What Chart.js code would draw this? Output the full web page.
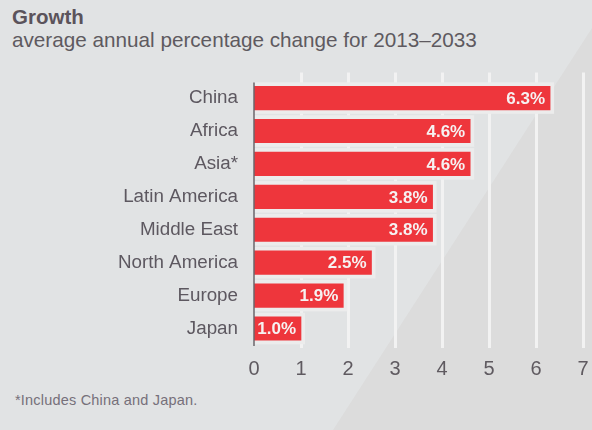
<!DOCTYPE html>
<html>
<head>
<meta charset="utf-8">
<script src="https://cdn.jsdelivr.net/npm/chart.js@4"></script>
<style>
  html, body { margin: 0; padding: 0; }
  body { width: 592px; height: 430px; position: relative; overflow: hidden; background: #e1e3e4; font-family: "Liberation Sans", Arial, sans-serif; }
  .shade { position: absolute; left: 0; top: 0; width: 592px; height: 430px; background: #dcdcdc;
           clip-path: polygon(333px 430px, 610px 0px, 700px 0px, 700px 430px); }
  .title { position: absolute; left: 12px; top: 5px; font-size: 20.5px; font-weight: bold; color: #5b535b; }
  .sub { position: absolute; left: 12px; top: 28px; font-size: 20.7px; color: #5e5a60; }
  .note { position: absolute; left: 15px; top: 392px; font-family: "Liberation Sans Narrow", "Liberation Sans", sans-serif; font-size: 14.5px; letter-spacing: 0.2px; color: #76707a; }
  #c { position: absolute; left: 0; top: 0; }
</style>
</head>
<body>
<div class="shade"></div>
<div class="title">Growth</div>
<div class="sub">average annual percentage change for 2013–2033</div>
<div class="note">*Includes China and Japan.</div>
<canvas id="c" width="592" height="430"></canvas>
<script>
// Growth by region
const regions = ["China", "Africa", "Asia*", "Latin America", "Middle East", "North America", "Europe", "Japan"];
const growth = [6.3, 4.6, 4.6, 3.8, 3.8, 2.5, 1.9, 1.0];
const valueLabels = ["6.3%", "4.6%", "4.6%", "3.8%", "3.8%", "2.5%", "1.9%", "1.0%"];

// white grid lines, a bit taller than the plot area
const gridPlugin = {
    id: "grid",
    beforeDatasetsDraw(chart) {
        const ctx = chart.ctx;
        const area = chart.chartArea;
        const x = chart.scales.x;
        ctx.save();
        ctx.strokeStyle = "#f2f2f2";
        ctx.lineWidth = 3;
        x.ticks.forEach(t => {
            if (t.value === 0) return;
            const px = Math.round(x.getPixelForValue(t.value)) + 0.5;
            ctx.beginPath();
            ctx.moveTo(px, area.top - 9);
            ctx.lineTo(px, area.bottom + 3);
            ctx.stroke();
        });
        // light frame behind each bar
        const meta = chart.getDatasetMeta(0);
        ctx.fillStyle = "#ececec";
        meta.data.forEach(bar => {
            const h = bar.height;
            ctx.fillRect(bar.base, bar.y - h / 2 - 4, bar.x - bar.base + 4, h + 8);
        });
        ctx.restore();
    },
    afterDatasetsDraw(chart) {
        const ctx = chart.ctx;
        const meta = chart.getDatasetMeta(0);
        ctx.save();
        ctx.fillStyle = "#f6f2f2";
        ctx.font = "bold 17px 'Liberation Sans', Arial, sans-serif";
        ctx.textAlign = "right";
        ctx.textBaseline = "middle";
        meta.data.forEach((bar, i) => {
            ctx.fillText(valueLabels[i], bar.x - 5, bar.y + 1);
        });
        // zero line
        const x0 = chart.scales.x.getPixelForValue(0);
        ctx.strokeStyle = "#6b666b";
        ctx.lineWidth = 1.5;
        ctx.beginPath();
        ctx.moveTo(x0, chart.chartArea.top + 1);
        ctx.lineTo(x0, chart.chartArea.bottom + 1);
        ctx.stroke();
        ctx.restore();
    }
};

new Chart(document.getElementById("c"), {
    type: "bar",
    data: {
        labels: regions,
        datasets: [{
            data: growth,
            backgroundColor: "#ee363c",
            borderWidth: 0,
            barThickness: 23.5,
        }],
    },
    options: {
        indexAxis: "y",
        responsive: false,
        animation: false,
        events: [],
        layout: { padding: { top: 81.6, right: 9, bottom: 49, left: 0 } },
        scales: {
            x: {
                min: 0, max: 7,
                ticks: { stepSize: 1, padding: 0, maxRotation: 0, autoSkip: false, color: "#5f5a60", font: { family: "Liberation Sans", size: 20 } },
                grid: { display: false, drawTicks: true, tickLength: 12 },
                border: { display: false },
            },
            y: {
                ticks: { padding: 16, color: "#5d5860", font: { family: "Liberation Sans", size: 18.8 } },
                grid: { display: false, drawTicks: false },
                border: { display: false },
                afterFit: s => { s.width = 254; },
            },
        },
        plugins: {
            legend: { display: false },
            tooltip: { enabled: false },
        },
    },
    plugins: [gridPlugin],
});
</script>
</body>
</html>
